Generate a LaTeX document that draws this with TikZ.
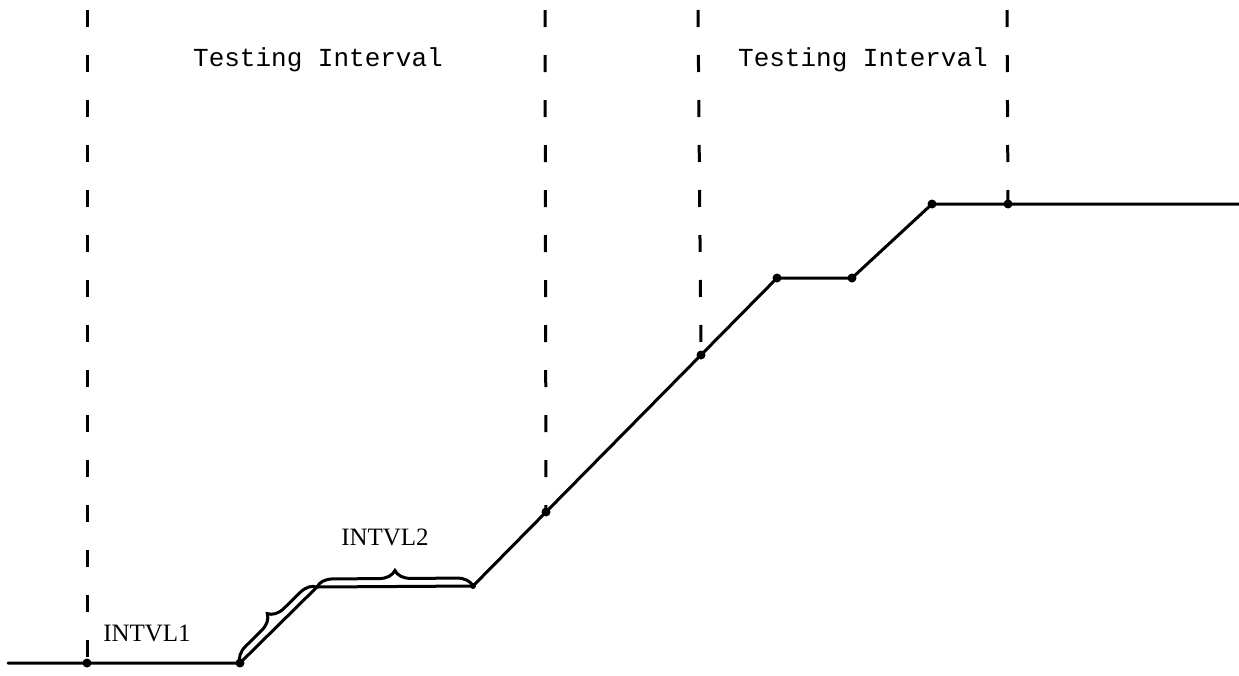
\documentclass[tikz,border=0pt]{standalone}
\usepackage{fontspec}
\setmainfont{Liberation Serif}
\newfontfamily\monofont{Liberation Mono}
\usetikzlibrary{decorations.pathreplacing}
\tikzset{
  dot/.style={circle,fill=black,inner sep=0pt,minimum size=9pt},
  curve/.style={line width=3pt,line cap=round,line join=round},
  guide/.style={line width=3pt,dash pattern=on 17pt off 28pt},
  bracemark/.style={line width=3pt,decorate,decoration={brace,amplitude=#1}},
  monolabel/.style={font=\monofont\fontsize{26}{30}\selectfont,inner sep=0pt},
  seriflabel/.style={font=\fontsize{25}{29}\selectfont,inner sep=0pt}
}
\begin{document}
\begin{tikzpicture}[x=1pt,y=-1pt]
\useasboundingbox (0,0) rectangle (1239,675);
% points of the curve
\coordinate (S) at (8,663);
\node[dot] (A) at (87,663) {};
\node[dot] (B) at (240,663) {};
\coordinate (C) at (317,587);
\node[dot,minimum size=6pt] (D) at (473,586) {};
\node[dot] (E) at (546,512) {};
\node[dot] (F) at (701,355) {};
\node[dot] (G) at (777,278) {};
\node[dot] (H) at (852,278) {};
\node[dot] (I) at (932,204) {};
\node[dot] (J) at (1008,204) {};
\coordinate (T) at (1239,204);
% tops of the guides
\coordinate (A0) at (87,10);
\coordinate (E0) at (545,10);
\coordinate (F0) at (698,10);
\coordinate (J0) at (1007,10);
% guides
\draw[guide] (A0) -- (A.center);
\draw[guide] (E0) -- (E.center);
\draw[guide] (F0) -- (F.center);
\draw[guide] (J0) -- (J.center);
% curve
\draw[curve] (S) -- (A.center) -- (B.center) -- (C) -- (D.center) -- (E.center)
  -- (F.center) -- (G.center) -- (H.center) -- (I.center) -- (J.center) -- (T);
% braces
\draw[bracemark=16pt] (B.center) -- (C);
\draw[bracemark=16pt] (C) -- (D.center);
% labels
\node[monolabel,anchor=base] (t1) at (318,66) {Testing Interval};
\node[monolabel,anchor=base] (t2) at (863,66) {Testing Interval};
\node[seriflabel] (l1) at (147,633) {INTVL1};
\node[seriflabel] (l2) at (385,537) {INTVL2};
\end{tikzpicture}
\end{document}
